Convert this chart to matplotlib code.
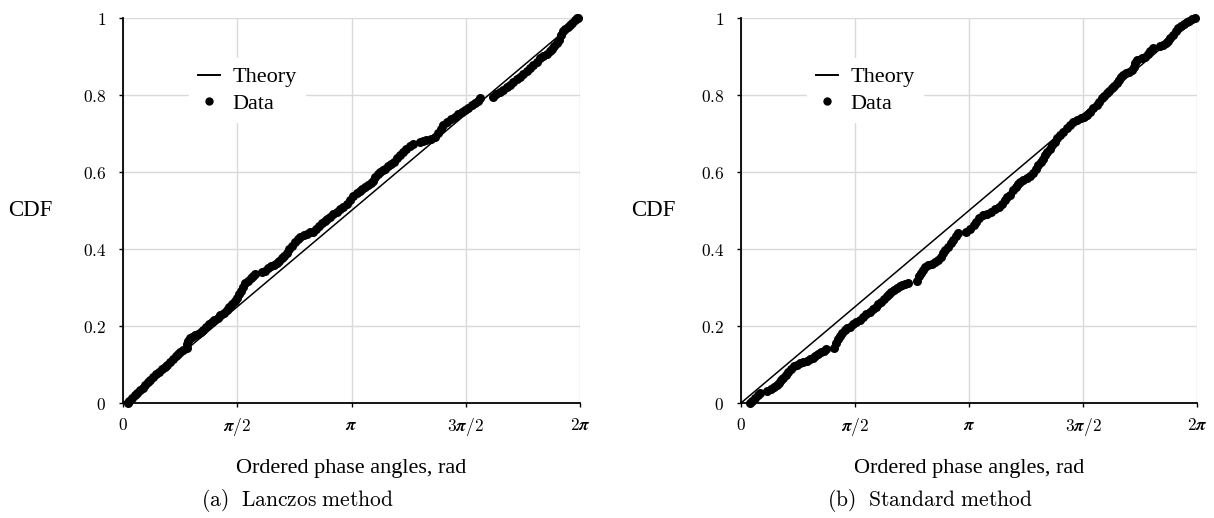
import numpy as np
import matplotlib
matplotlib.use("Agg")
import matplotlib.pyplot as plt
from matplotlib.lines import Line2D

# ---------------- data (angles in units of pi) ----------------
theory_x_pi = [0.0, 2.0]
theory_cdf = [0.0, 1.0]

lanczos_x_pi = [
    0.020, 0.028, 0.040, 0.052, 0.062, 0.074, 0.086, 0.098, 0.110, 0.120,
    0.132, 0.144, 0.156, 0.170, 0.182, 0.194, 0.206, 0.218, 0.230, 0.240,
    0.250, 0.264, 0.278, 0.282, 0.286, 0.292, 0.304, 0.316, 0.328, 0.340,
    0.352, 0.364, 0.376, 0.388, 0.400, 0.414, 0.426, 0.440, 0.454, 0.466,
    0.476, 0.488, 0.498, 0.508, 0.518, 0.526, 0.534, 0.546, 0.558, 0.568,
    0.578,
    0.610, 0.622, 0.636, 0.648, 0.660, 0.672, 0.684, 0.696, 0.706, 0.716,
    0.728, 0.738, 0.752, 0.764, 0.776, 0.790, 0.804, 0.818, 0.832, 0.844,
    0.858, 0.870, 0.882, 0.894, 0.906, 0.920, 0.936, 0.950, 0.964, 0.980,
    0.994, 1.008, 1.022, 1.036, 1.048, 1.060, 1.072, 1.084, 1.096, 1.104,
    1.114, 1.126, 1.136, 1.146, 1.160, 1.172, 1.184, 1.198, 1.212, 1.226,
    1.240, 1.256, 1.270,
    1.300, 1.314, 1.328, 1.346, 1.366, 1.378, 1.390, 1.402, 1.418, 1.434,
    1.452, 1.466, 1.482, 1.496, 1.510, 1.526, 1.540, 1.552, 1.562,
    1.620, 1.634, 1.650, 1.664, 1.680, 1.694, 1.708, 1.724, 1.738, 1.752,
    1.768, 1.782, 1.796, 1.810, 1.824, 1.838, 1.854, 1.868, 1.878, 1.888,
    1.898, 1.908, 1.916, 1.926, 1.936, 1.946, 1.956, 1.966, 1.976, 1.986,
    1.992,
]
lanczos_cdf = [
    0.000, 0.005, 0.012, 0.020, 0.027, 0.034, 0.040, 0.047, 0.054, 0.061,
    0.068, 0.075, 0.081, 0.088, 0.094, 0.100, 0.107, 0.114, 0.121, 0.128,
    0.133, 0.137, 0.142, 0.152, 0.160, 0.168, 0.172, 0.176, 0.180, 0.185,
    0.190, 0.197, 0.204, 0.211, 0.216, 0.222, 0.228, 0.234, 0.241, 0.249,
    0.257, 0.265, 0.272, 0.282, 0.292, 0.302, 0.311, 0.318, 0.325, 0.330,
    0.335,
    0.340, 0.344, 0.350, 0.355, 0.359, 0.363, 0.370, 0.377, 0.383, 0.389,
    0.399, 0.409, 0.419, 0.425, 0.431, 0.436, 0.440, 0.443, 0.445, 0.452,
    0.460, 0.467, 0.473, 0.479, 0.484, 0.490, 0.497, 0.503, 0.510, 0.518,
    0.526, 0.538, 0.545, 0.551, 0.557, 0.562, 0.567, 0.571, 0.577, 0.586,
    0.594, 0.600, 0.604, 0.608, 0.615, 0.621, 0.627, 0.636, 0.645, 0.653,
    0.660, 0.667, 0.674,
    0.678, 0.680, 0.683, 0.687, 0.692, 0.702, 0.712, 0.722, 0.729, 0.737,
    0.744, 0.750, 0.756, 0.761, 0.767, 0.773, 0.778, 0.785, 0.791,
    0.796, 0.802, 0.808, 0.813, 0.820, 0.826, 0.833, 0.841, 0.848, 0.855,
    0.862, 0.869, 0.878, 0.887, 0.895, 0.901, 0.907, 0.913, 0.920, 0.927,
    0.934, 0.944, 0.955, 0.965, 0.971, 0.977, 0.982, 0.988, 0.994, 0.999,
    1.000,
]

standard_x_pi = [
    0.040, 0.050, 0.062, 0.074, 0.084, 0.112, 0.132, 0.144, 0.156, 0.166,
    0.176, 0.186, 0.196, 0.208, 0.220, 0.232, 0.244, 0.258, 0.272, 0.288,
    0.302, 0.314, 0.326, 0.338, 0.350, 0.362, 0.374,
    0.410, 0.418, 0.426, 0.434, 0.444, 0.456, 0.466, 0.476, 0.490, 0.504,
    0.520, 0.534, 0.550, 0.564, 0.578, 0.590, 0.602, 0.616, 0.628, 0.640,
    0.650, 0.660, 0.672, 0.684, 0.696, 0.708, 0.720, 0.732,
    0.770, 0.782, 0.790, 0.798, 0.806, 0.820, 0.836, 0.850, 0.864, 0.876,
    0.886, 0.896, 0.908, 0.920, 0.932, 0.942, 0.952,
    0.988, 1.006, 1.020, 1.032, 1.046, 1.062, 1.080, 1.098, 1.116, 1.132,
    1.144, 1.156, 1.168, 1.180, 1.192, 1.204, 1.214, 1.224, 1.238, 1.254,
    1.268, 1.280, 1.292, 1.304, 1.314, 1.324, 1.334, 1.344, 1.354, 1.364,
    1.376, 1.388, 1.400, 1.414, 1.430, 1.444, 1.458, 1.474, 1.490, 1.504,
    1.516, 1.530, 1.546, 1.560, 1.572, 1.582, 1.594, 1.604, 1.616, 1.626,
    1.638, 1.648, 1.658, 1.668, 1.676, 1.690, 1.702, 1.714, 1.722, 1.730,
    1.736,
    1.760, 1.772, 1.784, 1.796, 1.808,
    1.836, 1.852, 1.862, 1.872, 1.882, 1.894, 1.906, 1.918, 1.930, 1.942,
    1.954, 1.966, 1.980, 1.992,
]
standard_cdf = [
    0.000, 0.006, 0.013, 0.022, 0.027, 0.030, 0.036, 0.041, 0.047, 0.053,
    0.059, 0.066, 0.073, 0.080, 0.088, 0.095, 0.100, 0.104, 0.107, 0.110,
    0.113, 0.118, 0.123, 0.128, 0.132, 0.135, 0.139,
    0.144, 0.155, 0.165, 0.174, 0.182, 0.189, 0.194, 0.198, 0.204, 0.210,
    0.216, 0.223, 0.230, 0.237, 0.244, 0.250, 0.256, 0.263, 0.270, 0.278,
    0.284, 0.289, 0.294, 0.299, 0.303, 0.306, 0.309, 0.311,
    0.318, 0.329, 0.337, 0.346, 0.354, 0.358, 0.362, 0.366, 0.371, 0.380,
    0.389, 0.398, 0.406, 0.415, 0.424, 0.433, 0.441,
    0.445, 0.452, 0.462, 0.471, 0.480, 0.488, 0.492, 0.497, 0.503, 0.509,
    0.518, 0.527, 0.534, 0.541, 0.552, 0.561, 0.568, 0.575, 0.579, 0.584,
    0.589, 0.598, 0.608, 0.618, 0.627, 0.635, 0.644, 0.653, 0.661, 0.670,
    0.679, 0.688, 0.696, 0.704, 0.714, 0.723, 0.731, 0.736, 0.740, 0.744,
    0.748, 0.757, 0.766, 0.774, 0.783, 0.791, 0.798, 0.804, 0.811, 0.818,
    0.824, 0.830, 0.838, 0.846, 0.852, 0.857, 0.861, 0.865, 0.874, 0.883,
    0.891,
    0.896, 0.900, 0.907, 0.914, 0.921,
    0.926, 0.930, 0.936, 0.941, 0.947, 0.956, 0.965, 0.973, 0.979, 0.985,
    0.990, 0.993, 0.997, 1.000,
]

x_tick_pi = [0, 0.5, 1.0, 1.5, 2.0]
x_tick_labels = [r'$\mathbf{0}$', r'$\boldsymbol{\pi}\mathbf{/2}$', r'$\boldsymbol{\pi}$',
                 r'$\mathbf{3}\boldsymbol{\pi}\mathbf{/2}$', r'$\mathbf{2}\boldsymbol{\pi}$']
y_ticks = [0, 0.2, 0.4, 0.6, 0.8, 1.0]
y_tick_labels = [r'$\mathbf{0}$', r'$\mathbf{0.2}$', r'$\mathbf{0.4}$', r'$\mathbf{0.6}$',
                 r'$\mathbf{0.8}$', r'$\mathbf{1}$']
captions = [r'$\mathrm{(a)\ \ Lanczos\ method}$', r'$\mathrm{(b)\ \ Standard\ method}$']
legend_labels = ['Theory', 'Data']

# ---------------- style ----------------
plt.rcParams['mathtext.fontset'] = 'cm'
serif = 'Liberation Serif'
W, H = 1214, 518
fig = plt.figure(figsize=(W / 100, H / 100), dpi=100)

panels = [
    (123, 457, lanczos_x_pi, lanczos_cdf, 297),
    (741, 456, standard_x_pi, standard_cdf, 930),
]

for i, (left, width, xs, ys, cap_x) in enumerate(panels):
    ax = fig.add_axes([left / W, (H - 403) / H, width / W, 385 / H])
    ax.plot(np.pi * np.array(theory_x_pi), theory_cdf, color='black', lw=1.1, zorder=2)
    ax.plot(np.pi * np.array(xs), ys, 'o', color='black', ms=6.5, mew=0,
            clip_on=False, zorder=3)
    ax.set_xlim(0, 2 * np.pi)
    ax.set_ylim(0, 1)
    ax.set_xticks(np.pi * np.array(x_tick_pi))
    ax.set_xticklabels(x_tick_labels, fontsize=12.5)
    ax.set_yticks(y_ticks)
    ax.set_yticklabels(y_tick_labels, fontsize=12.5)
    ax.grid(True, color='#d9d9d9', lw=1.0, zorder=0)
    ax.set_axisbelow(True)
    for s in ['top', 'right']:
        ax.spines[s].set_visible(False)
    for s in ['left', 'bottom']:
        ax.spines[s].set_linewidth(1.3)
        ax.spines[s].set_color('black')
    ax.tick_params(axis='both', direction='out', length=3, width=1.0, color='black')
    ax.tick_params(axis='y', pad=9)
    ax.tick_params(axis='x', pad=6)
    ax.text(0.5, -0.17, 'Ordered phase angles, rad', transform=ax.transAxes,
            ha='center', va='center', fontsize=16, family=serif)
    ylx = (30 - left) / width if i == 0 else (653 - left) / width
    ax.text(ylx, 0.501, 'CDF', transform=ax.transAxes, ha='center', va='center',
            fontsize=16.5, family=serif)
    handles = [Line2D([], [], color='black', lw=1.4),
               Line2D([], [], color='black', marker='o', ls='none', ms=6, mew=0)]
    ax.legend(handles, legend_labels, loc='upper left',
              bbox_to_anchor=(0.12, 0.925), frameon=True, fancybox=False,
              facecolor='white', edgecolor='white', framealpha=1,
              prop={'family': serif, 'size': 16}, handlelength=1.0,
              handletextpad=0.55, labelspacing=0.25, borderpad=0.4)
    fig.text(cap_x / W, 1 - 501 / H, captions[i], ha='center', va='center',
             fontsize=15.5)

fig.savefig('out.png', dpi=100)
